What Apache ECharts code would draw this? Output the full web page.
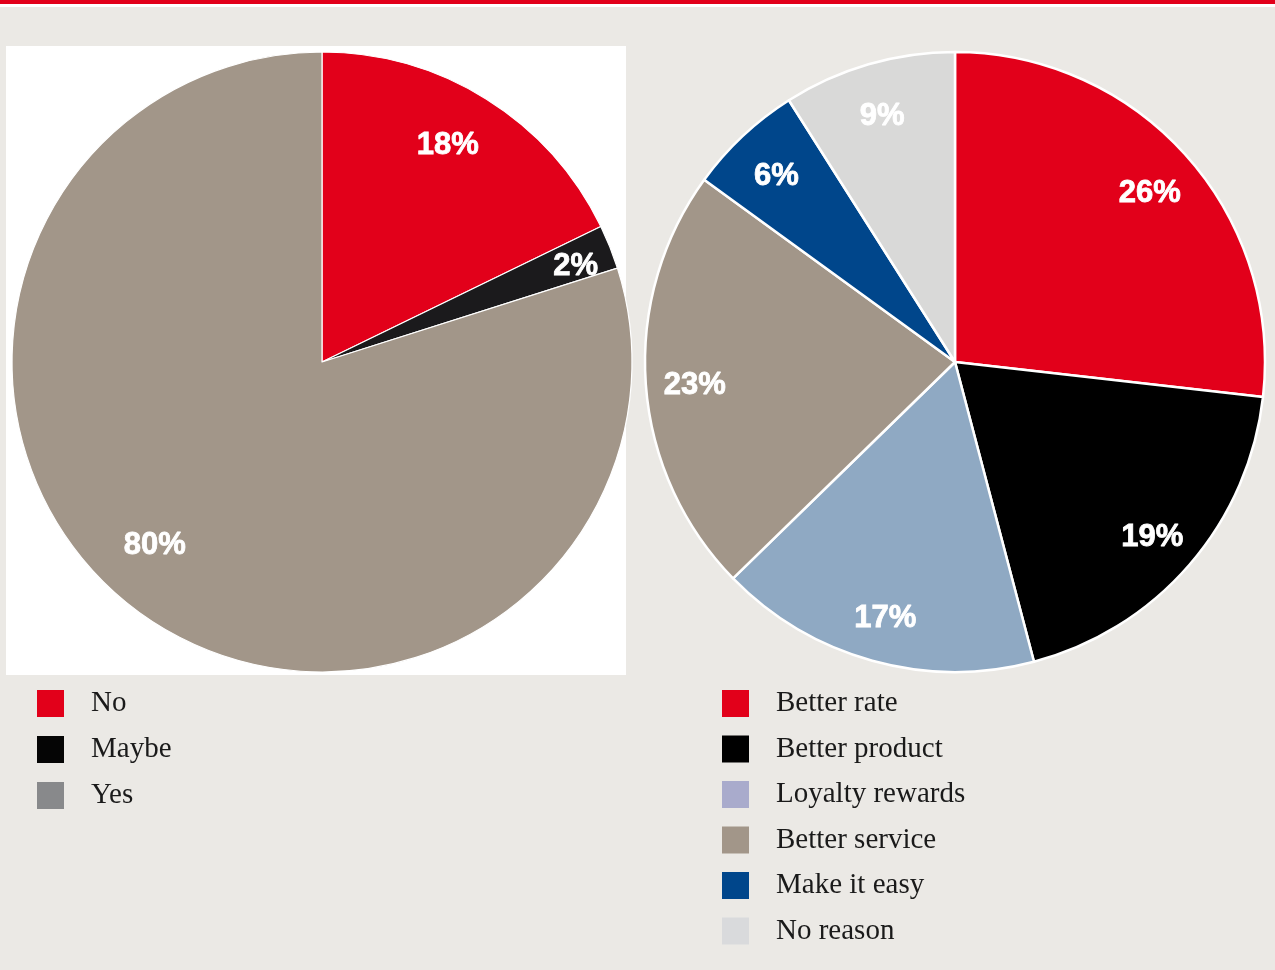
<!DOCTYPE html>
<html>
<head>
<meta charset="utf-8">
<script src="https://cdn.jsdelivr.net/npm/echarts@6/dist/echarts.min.js"></script>
<style>
  html, body { margin: 0; padding: 0; background: #ebe9e5; }
  #chart { width: 1275px; height: 970px; }
</style>
</head>
<body>
<div id="chart"></div>
<script>
  // 左边饼图: 是否会换
  var leftNames = ['No', 'Maybe', 'Yes'];
  var leftValues = [17.8, 2.3, 79.9];          // 按扇区角度读出
  var leftLabels = ['18%', '2%', '80%'];        // 图上印的百分比
  var leftColors = ['#e2001a', '#1b1a1c', '#a29689'];
  var leftLegendColors = ['#e2001a', '#050505', '#88898b'];
  // 标签微调 (原图标签不完全在扇区中线上)
  var leftLabelNudge = [[-10, 0], [16, -1], [-16, -23]];

  // 右边饼图: 原因
  var rightNames = ['Better rate', 'Better product', 'Loyalty rewards', 'Better service', 'Make it easy', 'No reason'];
  var rightValues = [26.8, 19.1, 16.8, 22.3, 6.0, 9.0];
  var rightLabels = ['26%', '19%', '17%', '23%', '6%', '9%'];
  var rightColors = ['#e2001a', '#000000', '#8fa9c3', '#a29689', '#00468b', '#d9d9d8'];
  var rightLegendColors = ['#e2001a', '#000000', '#a9abcc', '#a29689', '#00468b', '#d9dadc'];

  var R = 310;

  function toData (names, values, colors) {
    return names.map(function (n, i) {
      return { name: n, value: values[i], itemStyle: { color: colors[i] } }
    })
  }
  function legendData (names, colors) {
    return names.map(function (n, i) {
      return { name: n, itemStyle: { color: colors[i], borderWidth: 0 } }
    })
  }
  function labelStyle (texts) {
    return {
      show: true,
      position: 'inside',
      color: '#ffffff',
      fontFamily: 'Liberation Sans',
      fontWeight: 'bold',
      fontSize: 31,
      textBorderColor: '#ffffff',
      textBorderWidth: 0.8,
      formatter: function (p) { return texts[p.dataIndex] }
    }
  }

  var legendText = {
    fontFamily: 'Liberation Serif',
    fontSize: 29,
    color: '#1a1a1a',
    padding: [0, 0, 0, 22]
  };

  var chart = echarts.init(document.getElementById('chart'));
  var option = {
    backgroundColor: '#ebe9e5',
    animation: false,
    graphic: [
      { type: 'rect', shape: { x: 0, y: 0, width: 1275, height: 7 }, style: { fill: '#ffffff' }, z: -10 },
      { type: 'rect', shape: { x: 0, y: 0, width: 1275, height: 4 }, style: { fill: '#e2001a' }, z: -9 },
      { type: 'rect', shape: { x: 6, y: 46, width: 620, height: 629 }, style: { fill: '#ffffff' }, z: -10 }
    ],
    legend: [{
      orient: 'vertical',
      left: 37,
      top: 689,
      padding: 0,
      itemWidth: 27,
      itemHeight: 27,
      itemGap: 17,
      icon: 'rect',
      selectedMode: false,
      itemStyle: { borderWidth: 0 },
      textStyle: legendText,
      data: legendData(leftNames, leftLegendColors)
    }, {
      orient: 'vertical',
      left: 722,
      top: 689,
      padding: 0,
      itemWidth: 27,
      itemHeight: 27,
      itemGap: 16.5,
      icon: 'rect',
      selectedMode: false,
      itemStyle: { borderWidth: 0 },
      textStyle: legendText,
      data: legendData(rightNames, rightLegendColors)
    }],
    series: [{
      type: 'pie',
      center: [322, 362],
      radius: [0, R],
      startAngle: 90,
      clockwise: true,
      silent: true,
      label: { show: false },
      labelLine: { show: false },
      itemStyle: { borderColor: '#ffffff', borderWidth: 1.2 },
      data: toData(leftNames, leftValues, leftColors)
    }, {
      // 只用来放标签的透明环
      type: 'pie',
      center: [322, 362],
      radius: [196, R],
      startAngle: 90,
      silent: true,
      label: labelStyle(leftLabels),
      labelLine: { show: false },
      itemStyle: { color: 'transparent', borderWidth: 0 },
      data: leftNames.map(function (n, i) {
        return { name: n, value: leftValues[i], label: { offset: leftLabelNudge[i] } }
      })
    }, {
      type: 'pie',
      center: [955, 362],
      radius: [0, R],
      startAngle: 90,
      clockwise: true,
      silent: true,
      label: { show: false },
      labelLine: { show: false },
      itemStyle: { borderColor: '#ffffff', borderWidth: 2.5 },
      data: toData(rightNames, rightValues, rightColors)
    }, {
      type: 'pie',
      center: [955, 362],
      radius: [206, R],
      startAngle: 90,
      silent: true,
      label: Object.assign(labelStyle(rightLabels), { offset: [0, 5] }),
      labelLine: { show: false },
      itemStyle: { color: 'transparent', borderWidth: 0 },
      data: rightNames.map(function (n, i) { return { name: n, value: rightValues[i] } })
    }]
  };
  chart.setOption(option);
</script>
</body>
</html>
